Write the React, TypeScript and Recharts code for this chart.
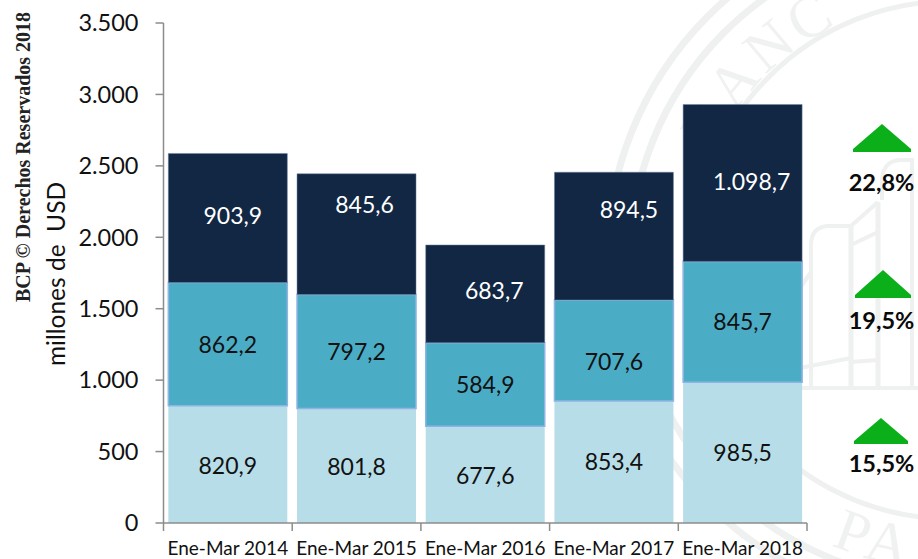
import React from "react";
import { BarChart, Bar, XAxis, YAxis, LabelList } from "recharts";

const categories = ["Ene-Mar 2014", "Ene-Mar 2015", "Ene-Mar 2016", "Ene-Mar 2017", "Ene-Mar 2018"];
const bottomValues = [820.9, 801.8, 677.6, 853.4, 985.5];
const middleValues = [862.2, 797.2, 584.9, 707.6, 845.7];
const topValues = [903.9, 845.6, 683.7, 894.5, 1098.7];
const yTicks = [0, 500, 1000, 1500, 2000, 2500, 3000, 3500];
const growthLabels = ["22,8%", "19,5%", "15,5%"];

// Hand-placed label nudges of the original slide, in px
const bottomNudge = [[0, 1], [0, 1], [0, 1], [0, 0], [0, 0]];
const middleNudge = [[0, 1], [0, 0], [0, 0], [0, 11], [0, 0]];
const topNudge = [[5, -2], [8, -29], [9, -3], [15, -26], [9, -1]];
const arrowBoxes = [[853, 911, 124, 152], [855, 911, 270, 298], [854, 908, 418, 444]];
const growthBaselines = [191, 329, 472];

const data = categories.map((name, i) => ({
  name,
  bottom: bottomValues[i],
  middle: middleValues[i],
  top: topValues[i],
}));

const FONT = "Lato, 'Noto Sans', sans-serif";
const W = 918;
const H = 559;
const STEP = (807 - 163.5) / categories.length;

const fmtThousands = (v: number) => String(v).replace(/\B(?=(\d{3})+(?!\d))/g, ".");
const fmtValue = (v: number) => {
  const [a, b] = v.toFixed(1).split(".");
  return `${fmtThousands(Number(a))},${b}`;
};

const makeLabel = (nudge: number[][], fill: string) => (p: any) => {
  const [dx, dy] = nudge[p.index];
  return (
    <text
      x={p.x + p.width / 2 + dx}
      y={p.y + p.height / 2 + dy}
      dy="0.36em"
      textAnchor="middle"
      fontFamily={FONT}
      fontSize={23}
      fill={fill}
    >
      {fmtValue(Number(p.value))}
    </text>
  );
};

const XTick = (p: any) => {
  const last = p.index === categories.length - 1;
  const left = p.x - STEP / 2;
  return (
    <g>
      <line x1={left} x2={left} y1={p.y} y2={p.y + 8} stroke="#8C8C8C" strokeWidth={1.5} />
      {last && <line x1={left + STEP} x2={left + STEP} y1={p.y} y2={p.y + 8} stroke="#8C8C8C" strokeWidth={1.5} />}
      <text x={p.x} y={p.y + 32} textAnchor="middle" fontFamily={FONT} fontSize={19} fill="#111">
        {p.payload.value}
      </text>
    </g>
  );
};

const Seal = () => {
  const c = "#EEF1F0";
  return (
    <svg width={W} height={H} style={{ position: "absolute", left: 0, top: 0 }}>
      <defs>
        <path id="sealTop" d="M 690 260 A 262 262 0 0 1 952 -2" />
        <path id="sealBottom" d="M 714.5 459 A 310 310 0 0 0 1058 551" />
      </defs>
      <g fill="none" stroke={c}>
        <circle cx={952} cy={260} r={259} strokeWidth={5} />
        <circle cx={952} cy={260} r={322} strokeWidth={7} />
        <circle cx={952} cy={260} r={345} strokeWidth={7} />
        <path d="M 811 388 V 245 Q 811 227 828 226 H 851 L 878 202" strokeWidth={4} />
        <path d="M 851 226 V 388 M 878 202 V 388" strokeWidth={5} />
        <path d="M 882 200 V 178 Q 884 161 900 160 H 912 V 388" strokeWidth={4} />
        <path d="M 851 245 L 878 232 M 800 288 L 811 272 M 800 368 L 851 358 M 851 362 L 878 360 M 800 388 H 918" strokeWidth={4} />
      </g>
      <text fontFamily="'Liberation Serif', serif" fontSize={60} fill="#F0F2F1" letterSpacing={4}>
        <textPath href="#sealTop" startOffset={113}>BANC</textPath>
      </text>
      <text fontFamily="'Liberation Serif', serif" fontSize={60} fill="#F0F2F1" letterSpacing={6}>
        <textPath href="#sealBottom" startOffset={146}>PA</textPath>
      </text>
    </svg>
  );
};

const Overlay = () => (
  <svg width={W} height={H} style={{ position: "absolute", left: 0, top: 0 }}>
    {arrowBoxes.map(([l, r, t, b]) => (
      <path
        key={t}
        d={`M ${(l + r) / 2} ${t} L ${r} ${b - 3} V ${b} H ${l} V ${b - 3} Z`}
        fill="#0AAF19"
      />
    ))}
    {growthLabels.map((g, i) => (
      <text key={g} x={881.5} y={growthBaselines[i]} textAnchor="middle" fontFamily={FONT} fontSize={23.5} fontWeight={700} fill="#0a0a0a">
        {g}
      </text>
    ))}
    <text
      transform="translate(30,157) rotate(-90)"
      textAnchor="middle"
      fontFamily="'Liberation Serif', serif"
      fontSize={20}
      fontWeight={700}
      fill="#222"
    >
      BCP © Derechos Reservados 2018
    </text>
    <text
      transform="translate(65,274) rotate(-90)"
      textAnchor="middle"
      fontFamily={FONT}
      fontSize={24.5}
      fill="#111"
      xmlSpace="preserve"
    >
      millones de  USD
    </text>
  </svg>
);

export default function App() {
  return (
    <div style={{ position: "absolute", left: 0, top: 0, width: W, height: H, background: "#fff", overflow: "hidden" }}>
      <Seal />
      <div style={{ position: "absolute", left: 0, top: 0 }}>
        <BarChart
          width={W}
          height={H}
          data={data}
          margin={{ top: 23, right: 111, bottom: 0, left: 0 }}
          barCategoryGap="3.75%"
          stackOffset="none"
        >
          <XAxis
            dataKey="name"
            height={36}
            interval={0}
            tickLine={false}
            tickSize={0}
            tickMargin={0}
            tick={XTick}
            axisLine={{ stroke: "#8C8C8C", strokeWidth: 1.5 }}
          />
          <YAxis
            width={163.5}
            domain={[0, 3500]}
            ticks={yTicks}
            interval={0}
            tickFormatter={fmtThousands}
            tickSize={8}
            tickMargin={17}
            tickLine={{ stroke: "#8C8C8C", strokeWidth: 1.5 }}
            axisLine={{ stroke: "#8C8C8C", strokeWidth: 1.5 }}
            tick={{ fontFamily: FONT, fontSize: 23.5, fill: "#111" }}
          />
          <Bar dataKey="bottom" stackId="a" fill="#B7DDE8" isAnimationActive={false}>
            <LabelList dataKey="bottom" content={makeLabel(bottomNudge, "#111")} />
          </Bar>
          <Bar dataKey="middle" stackId="a" fill="#4BACC6" stroke="#8EB4E3" strokeWidth={1.5} isAnimationActive={false}>
            <LabelList dataKey="middle" content={makeLabel(middleNudge, "#111")} />
          </Bar>
          <Bar dataKey="top" stackId="a" fill="#112744" stroke="#6F84A0" strokeWidth={0.5} isAnimationActive={false}>
            <LabelList dataKey="top" content={makeLabel(topNudge, "#fff")} />
          </Bar>
        </BarChart>
      </div>
      <Overlay />
    </div>
  );
}
